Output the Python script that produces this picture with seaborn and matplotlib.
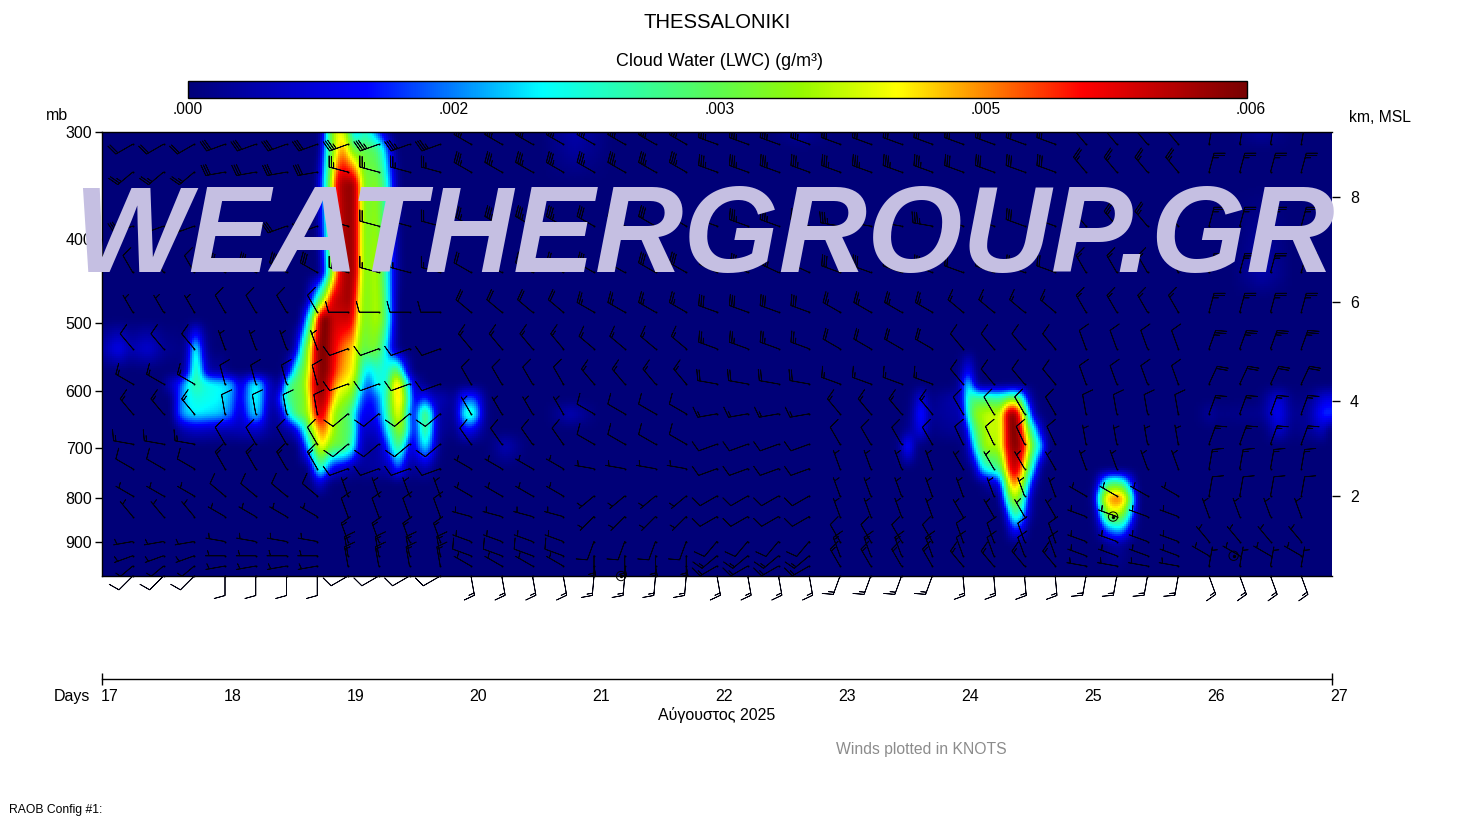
import numpy as np
import pandas as pd
import matplotlib
matplotlib.use("Agg")
import matplotlib.pyplot as plt
from matplotlib.colors import LinearSegmentedColormap
from matplotlib.transforms import ScaledTranslation
import seaborn as sns

sns.set_theme(style="white")
plt.rcParams['font.family'] = ['Liberation Sans', 'DejaVu Sans']

TITLE = "THESSALONIKI"
CBAR_TITLE = "Cloud Water (LWC) (g/m³)"
WATERMARK = "WEATHERGROUP.GR"
MONTH = "Αύγουστος 2025"
WINDS_NOTE = "Winds plotted in KNOTS"
CONFIG_NOTE = "RAOB Config #1:"

PRESSURE_TICKS = [300, 400, 500, 600, 700, 800, 900]
KM_TICKS = [8, 6, 4, 2]
KM_TICK_MB = [357, 473, 616, 795]
DAY_TICKS = [17, 18, 19, 20, 21, 22, 23, 24, 25, 26, 27]
CBAR_LABELS = [".000", ".002", ".003", ".005", ".006"]

# LWC, per pressure level, in 1e-4 g/m3.
# T = position along the ten-day record in 1/123 day; V = LWC at that position.
T300 = [218,223,228,235,243,248,254,260,266,274,282,290,440,473,510,670,698,730,1130,1160,1190]
V300 = [0,14,30,40,38,26,14,24,22,14,6,0,0,4,0,0,3,0,0,3,0]
T315 = [218,223,230,235,240,246,251,268,276,283,290,296,440,473,510]
V315 = [1,18,32,40,46,40,31,30,28,18,6,0,0,3,0]
T345 = [214,220,228,235,243,253,258,264,273,281,286,292,298]
V345 = [0,14,33,54,58,58,42,30,34,28,20,8,0]
T437 = [218,224,230,236,240,253,257,262,274,282,288,293,300,1130,1160,1190]
V437 = [2,15,35,48,56,58,44,32,37,28,16,6,0,0,4,0]
T470 = [204,211,218,224,230,250,256,262,276,284,290,296]
V470 = [1,15,30,40,54,58,42,32,37,26,12,1]
T495 = [198,205,210,214,218,224,230,238,250,256,262,276,284,290,296]
V495 = [1,18,30,44,58,62,54,54,54,40,32,37,28,12,1]
T536 = [0,12,18,28,46,63,83,88,94,99,106,193,198,203,209,213,218,224,233,243,253,259,274,283,290,298]
V536 = [3,8,9,4,7,2,1,10,26,10,1,3,18,30,40,54,60,60,51,45,41,30,33,22,8,0]
T569 = [80,88,94,100,108,120,185,190,196,203,208,213,219,225,232,240,252,258,262,268,275,283,288,294,300,306,312,858,866,874]
V569 = [1,12,30,14,3,3,3,16,28,32,42,54,60,59,50,44,40,28,20,18,24,20,24,34,20,6,0,1,12,1]
T589 = [60,76,83,93,103,118,130,136,144,148,158,165,173,178,183,188,201,206,211,218,224,230,236,250,256,261,266,273,278,283,289,295,302,307,312,318,858,862,866,870,876]
V589 = [1,10,18,26,22,20,18,8,10,20,20,8,3,1,18,28,32,40,52,60,57,48,42,38,28,18,12,20,24,18,34,46,32,18,6,3,2,14,24,12,2]
T613 = [70,76,83,93,118,130,136,144,148,158,165,173,181,188,203,208,213,220,226,231,238,250,255,260,270,278,286,294,300,306,312,316,323,330,353,358,364,372,378,384,810,819,828,860,864,868,873,883,898,904,910,918,923,928,1160,1176,1190,1205,1223,1230]
V613 = [1,12,18,22,20,16,8,12,20,20,7,3,20,28,32,42,54,58,52,42,36,32,22,12,10,16,28,42,42,24,8,8,14,6,2,10,14,14,8,1,1,9,1,5,22,26,28,28,26,30,34,30,16,4,1,8,1,1,8,8]
T638 = [72,78,83,93,118,130,136,144,148,158,165,173,181,186,195,206,211,216,223,227,233,248,253,258,270,278,286,294,300,306,311,316,323,330,336,353,358,364,372,378,384,450,468,490,810,819,828,860,866,873,888,898,902,906,914,919,924,929,934,1100,1108,1118,1160,1176,1190,1205,1223,1230]
V638 = [8,14,18,20,18,14,6,10,18,18,5,2,8,20,30,34,46,54,52,42,34,28,18,10,8,14,26,40,38,20,6,18,32,18,3,2,14,24,24,12,1,1,5,1,2,14,2,4,24,34,38,36,46,58,60,44,30,12,2,1,3,1,2,10,2,2,13,12]
T666 = [76,93,125,155,173,190,200,206,212,218,224,230,240,250,255,260,275,284,292,298,304,310,316,323,330,336,353,361,368,376,384,805,812,819,828,863,868,874,888,898,903,908,916,921,928,935,940,1168,1176,1190,1205,1223]
V666 = [3,6,4,6,1,4,16,28,38,46,46,36,30,28,14,6,6,18,30,36,28,8,14,30,16,3,1,8,10,5,1,2,4,10,1,3,18,30,38,36,48,60,60,46,28,16,4,2,7,1,2,6]
T695 = [196,203,210,216,221,228,243,251,256,263,276,284,290,296,302,308,316,323,330,336,390,403,420,797,806,814,866,873,883,898,903,908,916,923,928,934,939,945]
V695 = [2,12,26,38,42,32,30,22,10,3,3,10,20,30,20,6,12,22,12,2,1,5,1,1,14,1,4,22,36,36,48,58,60,50,36,24,20,3]
T739 = [208,214,219,224,231,243,253,288,295,301,308,320,323,329,873,878,888,898,904,910,916,922,928,934,939]
V739 = [6,18,26,16,8,5,2,4,14,8,2,3,5,2,3,18,24,26,42,56,54,40,26,12,2]
T769 = [210,218,224,883,898,904,910,916,922,928,934,993,1000,1008,1020,1028,1035]
V769 = [1,8,2,2,8,32,46,44,32,14,2,1,18,30,28,14,1]
T800 = [898,905,912,918,925,930,992,997,1005,1016,1024,1030,1036]
V800 = [3,24,38,32,14,2,2,26,44,48,42,24,3]
T833 = [902,908,914,920,928,994,999,1008,1020,1028,1036]
V833 = [3,20,28,20,3,2,22,38,36,20,2]
T867 = [904,913,920,928,997,1003,1016,1023,1030,1036]
V867 = [2,14,8,0,3,14,20,16,5,1]
T905 = [1003,1016,1026]
V905 = [1,3,1]
T985 = [0, 1230]
V985 = [0, 0]

LWC_LEVELS_MB = [300,315,345,437,470,495,536,569,589,613,638,666,695,739,769,800,833,867,905,985]
LWC_T = [T300,T315,T345,T437,T470,T495,T536,T569,T589,T613,T638,T666,T695,T739,T769,T800,T833,T867,T905,T985]
LWC_V = [V300,V315,V345,V437,V470,V495,V536,V569,V589,V613,V638,V666,V695,V739,V769,V800,V833,V867,V905,V985]

# Wind barbs read per level (rows) and per day 17..26 (columns).
WIND_LEVELS_MB = [310,334,386,437,486,536,589,638,692,739,795,840,898,933,959,985]
WIND_DIR = [
    [240,250,250,300,300,290,290,290,320,10],
    [230,260,285,300,300,290,290,290,320,15],
    [250,250,285,300,300,290,280,290,320,15],
    [330,300,285,300,300,295,290,290,330,15],
    [330,330,270,310,300,290,300,310,330,15],
    [320,340,250,320,310,290,300,320,340,20],
    [300,345,250,330,320,280,290,320,340,25],
    [320,350,230,330,300,260,320,330,350,20],
    [280,330,230,325,300,250,330,335,350,20],
    [300,330,250,300,280,250,340,330,340,10],
    [300,310,340,300,230,240,340,340,300,10],
    [320,300,340,285,225,240,340,330,290,340],
    [260,280,340,290,200,220,330,340,290,320],
    [250,270,350,290,180,230,340,340,290,300],
    [230,260,350,300,170,240,330,320,280,10],
    [225,180,240,170,185,170,200,175,190,160],
]
WIND_SPD = [
    [20,30,35,35,35,35,30,30,25,25],
    [25,30,25,35,35,35,35,30,25,25],
    [30,30,20,35,30,35,35,30,25,25],
    [10,30,15,20,30,35,30,20,15,25],
    [5,10,10,20,25,30,25,15,15,25],
    [10,5,10,15,15,25,20,10,10,25],
    [15,10,10,10,15,20,15,10,10,20],
    [15,10,10,5,10,15,15,10,10,15],
    [15,10,10,10,10,10,10,10,5,15],
    [10,15,10,5,5,10,5,5,5,15],
    [5,10,5,5,5,10,5,5,5,10],
    [5,5,10,5,5,10,5,5,5,5],
    [5,5,15,5,10,10,10,10,5,5],
    [5,5,15,10,15,15,15,10,5,5],
    [5,5,15,5,15,15,15,15,5,5],
    [10,10,10,15,15,15,15,15,15,15],
]
CALM_DAY = [21.22, 25.22, 26.2]
CALM_MB = [985, 840, 933]

CMAP_STOPS = [0.0, 0.168, 0.334, 0.5, 0.58, 0.67, 0.845, 1.0]
CMAP_COLORS = ["#000078", "#0000ff", "#00ffff", "#5cfb50", "#96fa00", "#ffff00", "#ff0000", "#780000"]
cmap = LinearSegmentedColormap.from_list("lwc", list(zip(CMAP_STOPS, CMAP_COLORS)), N=512)

W, H = 1466, 821
fig = plt.figure(figsize=(W / 100, H / 100), dpi=100, facecolor="white")
def box(x0, y0, x1, y1):
    return [x0 / W, 1 - y1 / H, (x1 - x0) / W, (y1 - y0) / H]

ax = fig.add_axes(box(102, 132, 1332, 576))
cax = fig.add_axes(box(188, 81, 1247, 98))

# display resampling of the read values onto the heatmap's cells
CELL = 2
SAMPLES_PER_DAY = 123
ROWS_PER_LOG_P = 373.5
def mb_to_row(p):
    return ROWS_PER_LOG_P * np.log(np.asarray(p, float) / 300.0) / CELL
def day_to_col(d):
    return (np.asarray(d, float) - 17) * SAMPLES_PER_DAY / CELL

def close_gaps(t, v, max_gap=45, margin=8):
    """Between separate cloud features there is no cloud."""
    ot, ov = [], []
    for i in range(len(t)):
        ot.append(t[i]); ov.append(v[i])
        if i + 1 < len(t) and t[i + 1] - t[i] > max_gap:
            ot += [t[i] + margin, t[i + 1] - margin]; ov += [0, 0]
    return ot, ov

def soften(a, kernel=(1, 2, 3, 4, 3, 2, 1)):
    """The original renders its field with a soft edge."""
    k = np.array(kernel, float) / sum(kernel)
    n = len(k) // 2
    a = np.apply_along_axis(lambda c: np.convolve(np.pad(c, n, mode="edge"), k, mode="valid"), 0, a)
    a = np.apply_along_axis(lambda c: np.convolve(np.pad(c, n, mode="edge"), k, mode="valid"), 1, a)
    return a

t_cells = np.arange(0, 1230, CELL) + CELL / 2
r_cells = np.arange(0, 444, CELL) + CELL / 2
by_level = np.array([np.interp(t_cells, *close_gaps(t, v), left=0, right=0) for t, v in zip(LWC_T, LWC_V)])
lev_rows = mb_to_row(LWC_LEVELS_MB) * CELL
grid = np.array([np.interp(r_cells, lev_rows, by_level[:, j]) for j in range(len(t_cells))]).T
df = pd.DataFrame(soften(grid) * 1e-4)

sns.heatmap(df, ax=ax, cmap=cmap, vmin=0, vmax=0.006, cbar_ax=cax,
            cbar_kws={"orientation": "horizontal"},
            xticklabels=False, yticklabels=False, rasterized=True)

ax.set_yticks(mb_to_row(PRESSURE_TICKS))
ax.set_yticklabels([str(p) for p in PRESSURE_TICKS], fontsize=11.5, color="black")
ax.tick_params(axis="y", left=True, length=5, width=1, color="black", pad=2)
ax.set_xlabel(""); ax.set_ylabel("")
for side, sp in ax.spines.items():
    sp.set_visible(side in ("left", "bottom", "top"))
    sp.set_color("black"); sp.set_linewidth(1)

axr = ax.twinx()
axr.set_ylim(ax.get_ylim())
axr.set_yticks(mb_to_row(KM_TICK_MB))
axr.set_yticklabels([str(k) for k in KM_TICKS], fontsize=11.5, color="black")
axr.tick_params(axis="y", right=True, length=6, width=1, color="black", pad=7)
axr.grid(False)
for sp in axr.spines.values():
    sp.set_visible(False)

# colorbar
cb = ax.collections[0].colorbar
cb.set_ticks([])
cb.outline.set_visible(True); cb.outline.set_edgecolor("black"); cb.outline.set_linewidth(1)

# wind barbs: all levels clipped to the panel except the surface one
col_days = 17.25 + 0.25 * np.arange(39)
BARB_STYLE = dict(length=5.3, linewidth=0.6, color="#00000f", pivot="tip",
                  sizes=dict(spacing=0.12, height=0.55, width=0.3, emptybarb=0.3))
for i, p in enumerate(WIND_LEVELS_MB):
    k = (col_days - 17).astype(int)
    a = np.deg2rad(np.array(WIND_DIR[i])[k]); s = np.array(WIND_SPD[i])[k]
    xs, ys = day_to_col(col_days), mb_to_row(np.full(col_days.shape, p))
    surface = p == WIND_LEVELS_MB[-1]
    ax.barbs(xs, ys, -s * np.sin(a), -s * np.cos(a), clip_on=not surface, zorder=3, **BARB_STYLE)
    ax.scatter(xs, ys, s=2, color="black", linewidths=0, zorder=3, clip_on=False)
ax.scatter(day_to_col(CALM_DAY), mb_to_row(CALM_MB), s=45, facecolors="none", edgecolors="black",
           linewidths=0.7, zorder=4, clip_on=False)
ax.scatter(day_to_col(CALM_DAY), mb_to_row(CALM_MB), s=6, color="black", linewidths=0, zorder=4, clip_on=False)

# time axis
axt = fig.add_axes(box(102, 660, 1332, 679))
axt.set_xlim(17, 27)
axt.set_ylim(0, 1)
axt.patch.set_alpha(0)
axt.set_yticks([])
for side, sp in axt.spines.items():
    sp.set_visible(side == "bottom")
    sp.set_color("black"); sp.set_linewidth(1)
axt.xaxis.remove_overlapping_locs = False
axt.set_xticks(DAY_TICKS)
axt.set_xticklabels([str(d) for d in DAY_TICKS], fontsize=11.5, color="black", ha="left")
axt.tick_params(axis="x", which="major", length=0, pad=7, bottom=True)
axt.set_xticks([17, 27], minor=True)
axt.tick_params(axis="x", which="minor", length=8, width=1, direction="inout", color="black", bottom=True)
shift = ScaledTranslation(-1.5 / 100, 0, fig.dpi_scale_trans)
for lab in axt.get_xticklabels():
    lab.set_transform(lab.get_transform() + shift)

def label(x, y, s, size, ha="center", color="black", **kw):
    fig.text(x / W, 1 - y / H, s, fontsize=size, ha=ha, va="center", color=color, **kw)

label(717, 22, TITLE, 14.6)
label(719.5, 61, CBAR_TITLE, 12.9)
label(57, 115, "mb", 11.5)
label(1380, 117.5, "km, MSL", 11.3)
label(72, 696, "Days", 11.5)
label(717, 715, MONTH, 11.5)
label(921.5, 749, WINDS_NOTE, 11.3, color="#8c8c8c")
label(9, 810, CONFIG_NOTE, 8.7, ha="left")
for i, s in enumerate(CBAR_LABELS):
    label(188 + i * 265.75, 109.5, s, 11.2)

# watermark above everything
wm = fig.text(704 / W, 1 - 272 / H, WATERMARK, fontsize=88.2, fontweight="bold", fontstyle="italic",
              color="#c5bfe2", ha="center", va="baseline", zorder=20)

fig.savefig("out.png", dpi=100, facecolor="white")
